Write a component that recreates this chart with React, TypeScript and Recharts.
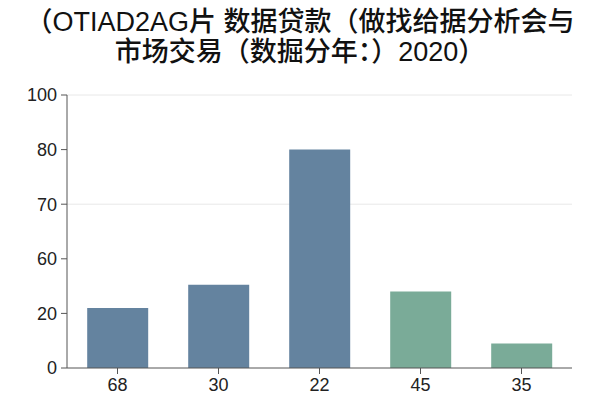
import { BarChart, Bar, XAxis, YAxis, CartesianGrid, Cell } from "recharts";

const categories = ["68", "30", "22", "45", "35"];
const values = [22, 30.5, 80, 28, 9];
const barColors = ["#64839f", "#64839f", "#64839f", "#7aab98", "#7aab98"];
const yTicks = [0, 20, 40, 60, 80, 100];
const yTickLabels = ["0", "20", "60", "70", "80", "100"];
const gridValues = [60, 100];

const titleLines = [
  "（OTIAD2AG片 数据贷款（做找给据分析会与",
  "市场交易（数掘分年：）2020）",
];

const data = categories.map((name, i) => ({ name, value: values[i] }));

const font = "'Liberation Sans', 'Noto Sans CJK SC', Arial, sans-serif";

export default function App() {
  return (
    <div style={{ position: "absolute", left: 0, top: 0, width: 600, height: 400, background: "#fff", fontFamily: font }}>
      <div
        style={{
          position: "absolute",
          left: 0,
          top: 7,
          width: 600,
          textAlign: "center",
          fontSize: 27,
          fontWeight: 500,
          lineHeight: "30px",
          color: "#111",
        }}
      >
        {titleLines.map((t) => (
          <div key={t} style={{ height: 30, whiteSpace: "nowrap" }}>{t}</div>
        ))}
      </div>
      <BarChart
        width={600}
        height={400}
        data={data}
        margin={{ top: 95, right: 28, bottom: 2, left: 7 }}
        barCategoryGap="20%"
      >
        <CartesianGrid vertical={false} stroke="#e8e8e8" horizontalValues={gridValues} />
        <XAxis
          dataKey="name"
          stroke="#555"
          tickLine={{ stroke: "#555" }}
          tickSize={6}
          tick={{ fill: "#222", fontSize: 18, fontFamily: font }}
          tickMargin={4}
        />
        <YAxis
          domain={[0, 100]}
          ticks={yTicks}
          tickFormatter={(v: number) => yTickLabels[yTicks.indexOf(v)]}
          stroke="#555"
          tickSize={6}
          tick={{ fill: "#222", fontSize: 18, fontFamily: font }}
          tickMargin={4}
          width={60}
        />
        <Bar dataKey="value" isAnimationActive={false}>
          {data.map((d, i) => (
            <Cell key={d.name} fill={barColors[i]} />
          ))}
        </Bar>
      </BarChart>
    </div>
  );
}
